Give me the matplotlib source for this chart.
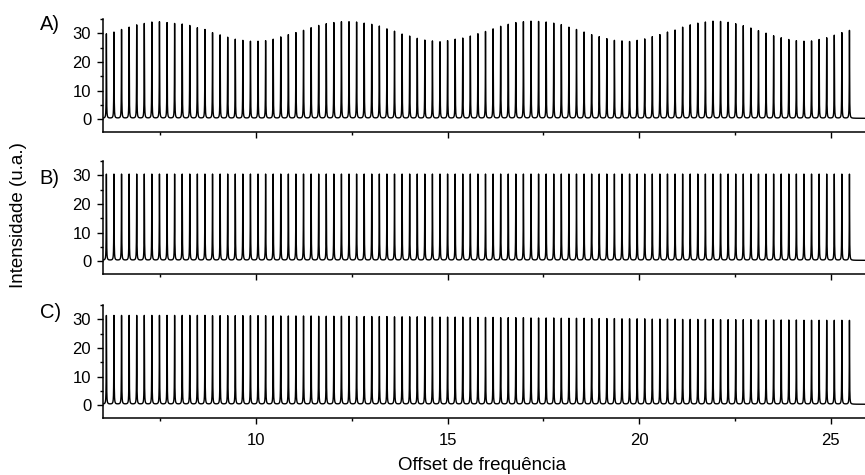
import numpy as np
import matplotlib
matplotlib.use("Agg")
import matplotlib.pyplot as plt
from matplotlib.ticker import MultipleLocator

plt.rcParams['font.family'] = ['Liberation Sans', 'DejaVu Sans']

## comb data
first_peak = 6.09
peak_spacing = 0.198
n_peaks = 99

heights_a = [29.5, 30.1, 31.0, 31.8, 32.6, 33.1, 33.6, 33.7, 33.4, 33.1,
             32.9, 32.4, 31.6, 31.0, 29.9, 29.1, 28.3, 27.6, 27.2, 26.9,
             26.9, 27.1, 27.6, 28.4, 29.2,
             29.9, 30.7, 31.6, 32.4, 33.0, 33.4, 33.7, 33.7, 33.6, 33.2,
             32.8, 32.2, 31.2, 30.4, 29.4, 28.7, 27.9, 27.3, 27.0, 26.7,
             27.1, 27.6, 28.0, 28.7, 29.5,
             30.3, 31.2, 32.1, 32.8, 33.4, 33.7, 33.9, 33.8, 33.6, 33.2,
             32.7, 31.8, 31.0, 30.1, 29.2, 28.5, 27.8, 27.2, 27.0, 26.8,
             27.2, 27.7, 28.5, 29.2, 30.1,
             30.8, 31.8, 32.6, 33.2, 33.6, 33.9, 33.8, 33.5, 33.0, 32.3,
             31.5, 30.6, 29.7, 28.8, 28.1, 27.5, 27.1, 26.9, 27.0, 27.5,
             28.1, 29.0, 29.9, 30.7]

heights_b = [30.1] * n_peaks

heights_c = [31.0, 31.0, 31.0, 31.0, 31.0, 31.0, 31.0, 31.0, 31.0, 31.0,
             31.0, 31.0, 31.0, 31.0, 30.9, 30.9, 30.9, 30.9, 30.9, 30.9,
             30.9, 30.9, 30.8, 30.8, 30.8, 30.8, 30.8, 30.8, 30.7, 30.7,
             30.7, 30.7, 30.7, 30.6, 30.6, 30.6, 30.6, 30.6, 30.5, 30.5,
             30.5, 30.5, 30.5, 30.4, 30.4, 30.4, 30.4, 30.4, 30.3, 30.3,
             30.3, 30.3, 30.2, 30.2, 30.2, 30.2, 30.1, 30.1, 30.1, 30.1,
             30.0, 30.0, 30.0, 30.0, 29.9, 29.9, 29.9, 29.9, 29.8, 29.8,
             29.8, 29.8, 29.7, 29.7, 29.7, 29.7, 29.6, 29.6, 29.6, 29.6,
             29.6, 29.5, 29.5, 29.5, 29.5, 29.5, 29.4, 29.4, 29.4, 29.4,
             29.4, 29.4, 29.3, 29.3, 29.3, 29.3, 29.3, 29.3, 29.3]

panel_labels = ['A)', 'B)', 'C)']
x_ticks = [10, 15, 20, 25]
y_ticks = [0, 10, 20, 30]

##peak shape
peak_pos = first_peak + peak_spacing*np.arange(n_peaks)
half_width = 0.0045
baseline = 0.3

def comb(x, heights):
    h = np.asarray(heights)[:, None]
    return baseline + (h / (1 + ((x[None, :] - peak_pos[:, None])/half_width)**2)).sum(axis=0)

x = np.union1d(np.linspace(6.0, 25.9, 40000), peak_pos)

##figure
fig = plt.figure(figsize=(8.65, 4.75), dpi=100)
bottoms = [0.722, 0.423, 0.120]
all_heights = [heights_a, heights_b, heights_c]
label_y = [0.949, 0.625, 0.343]

for i in range(3):
    ax = fig.add_axes([0.119, bottoms[i], 0.881, 0.238])
    ax.plot(x, comb(x, all_heights[i]), color='black', lw=1.0)
    ax.set_xlim(6.0, 25.9)
    ax.set_ylim(-4.5, 35)
    ax.spines['top'].set_visible(False)
    ax.spines['right'].set_visible(False)
    ax.spines['left'].set_linewidth(1.1)
    ax.spines['bottom'].set_linewidth(1.1)
    ax.set_xticks(x_ticks)
    ax.xaxis.set_minor_locator(MultipleLocator(2.5))
    ax.set_yticks(y_ticks)
    ax.yaxis.set_minor_locator(MultipleLocator(5))
    ax.tick_params(which='major', direction='out', length=4.5, width=1.0)
    ax.tick_params(which='minor', direction='out', length=2.5, width=1.0)
    ax.tick_params(axis='y', labelsize=12, pad=4)
    ax.tick_params(axis='x', labelsize=12, pad=6)
    if i < 2:
        ax.tick_params(axis='x', labelbottom=False)
    fig.text(0.046, label_y[i], panel_labels[i], fontsize=14.5,
             ha='left', va='center')

fig.text(0.021, 0.547, 'Intensidade (u.a.)', rotation=90, fontsize=13.5,
         ha='center', va='center')
fig.text(0.557, 0.021, 'Offset de frequência', fontsize=13.5,
         ha='center', va='center')

fig.savefig('out.png', dpi=100)
